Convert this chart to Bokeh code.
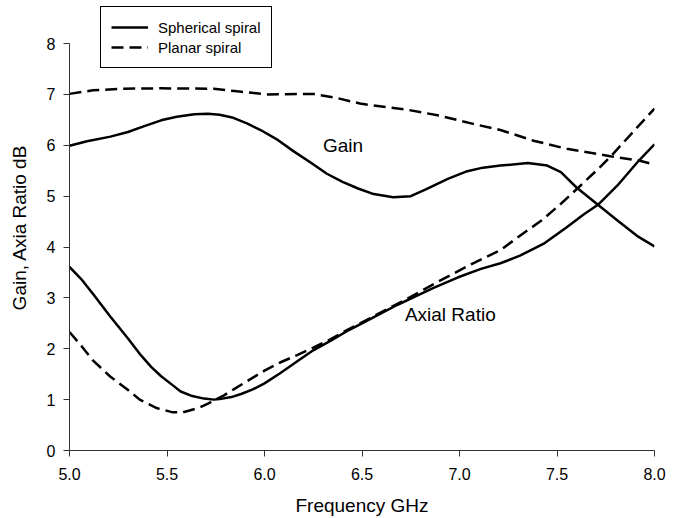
from bokeh.plotting import figure
from bokeh.models import Range1d, FixedTicker, Legend, PrintfTickFormatter
from bokeh.core.properties import value
from bokeh.embed import file_html
from bokeh.resources import INLINE

# Gain, spherical spiral (solid)
gain_sph_f = [5.00, 5.09, 5.21, 5.30, 5.38, 5.47, 5.55, 5.64, 5.71, 5.77, 5.84, 5.91, 5.98, 6.07, 6.15,
              6.24, 6.32, 6.40, 6.48, 6.56, 6.66, 6.75, 6.83, 6.94, 7.04, 7.12, 7.21, 7.35, 7.45, 7.52,
              7.60, 7.71, 7.81, 7.91, 8.00]
gain_sph_v = [5.99, 6.08, 6.17, 6.26, 6.37, 6.49, 6.56, 6.61, 6.62, 6.60, 6.54, 6.43, 6.30, 6.10, 5.88,
              5.65, 5.44, 5.28, 5.15, 5.04, 4.98, 5.00, 5.14, 5.34, 5.49, 5.56, 5.60, 5.65, 5.60, 5.47,
              5.17, 4.83, 4.52, 4.22, 4.01]

# Gain, planar spiral (dashed)
gain_pla_f = [5.00, 5.12, 5.26, 5.47, 5.74, 5.86, 6.01, 6.25, 6.37, 6.49, 6.56, 6.73, 6.90, 7.07, 7.21,
              7.38, 7.55, 7.78, 7.92, 8.00]
gain_pla_v = [7.01, 7.08, 7.11, 7.12, 7.11, 7.06, 7.00, 7.01, 6.93, 6.82, 6.78, 6.70, 6.58, 6.42, 6.30,
              6.09, 5.93, 5.78, 5.70, 5.62]

# Axial ratio, spherical spiral (solid)
ar_sph_f = [5.00, 5.06, 5.12, 5.21, 5.30, 5.36, 5.42, 5.47, 5.53, 5.57, 5.63, 5.69, 5.74, 5.77, 5.83,
            5.88, 5.94, 6.00, 6.08, 6.17, 6.25, 6.34, 6.42, 6.51, 6.60, 6.68, 6.78, 6.87, 6.99, 7.11,
            7.21, 7.31, 7.43, 7.55, 7.64, 7.71, 7.81, 7.92, 8.00]
ar_sph_v = [3.61, 3.37, 3.08, 2.63, 2.20, 1.90, 1.64, 1.46, 1.28, 1.16, 1.07, 1.02, 1.00, 1.01, 1.05,
            1.11, 1.20, 1.32, 1.52, 1.76, 1.97, 2.16, 2.34, 2.52, 2.70, 2.86, 3.04, 3.20, 3.40, 3.57,
            3.68, 3.83, 4.06, 4.39, 4.65, 4.83, 5.21, 5.70, 6.02]

# Axial ratio, planar spiral (dashed)
ar_pla_f = [5.00, 5.06, 5.12, 5.21, 5.30, 5.36, 5.45, 5.53, 5.58, 5.62, 5.67, 5.71, 5.79, 5.85, 5.91,
            6.00, 6.08, 6.17, 6.25, 6.34, 6.42, 6.51, 6.60, 6.73, 6.90, 7.07, 7.21, 7.31, 7.42, 7.52,
            7.61, 7.71, 7.78, 7.88, 8.00]
ar_pla_v = [2.33, 2.06, 1.77, 1.45, 1.19, 1.00, 0.83, 0.75, 0.75, 0.79, 0.85, 0.92, 1.08, 1.22, 1.36,
            1.57, 1.73, 1.88, 2.02, 2.19, 2.36, 2.54, 2.72, 2.98, 3.34, 3.68, 3.94, 4.22, 4.52, 4.85,
            5.17, 5.53, 5.80, 6.22, 6.72]

x_ticks = [5.0, 5.5, 6.0, 6.5, 7.0, 7.5, 8.0]
y_ticks = [0, 1, 2, 3, 4, 5, 6, 7, 8]

FONT = "Liberation Sans"

p = figure(width=672, height=518, output_backend="svg", toolbar_location=None,
           x_range=Range1d(5.0, 8.0), y_range=Range1d(0, 8.767),
           min_border_left=69, min_border_right=18, min_border_top=4, min_border_bottom=68)
p.outline_line_color = None
p.xgrid.visible = False
p.ygrid.visible = False

r1 = p.line(gain_sph_f, gain_sph_v, line_color="black", line_width=2.5)
r2 = p.line(gain_pla_f, gain_pla_v, line_color="black", line_width=2.5, line_dash="12 6")
p.line(ar_sph_f, ar_sph_v, line_color="black", line_width=2.5)
p.line(ar_pla_f, ar_pla_v, line_color="black", line_width=2.5, line_dash="12 6")

p.text(x=[6.30], y=[5.99], text=["Gain"], text_font=value(FONT), text_font_size="19px",
       text_baseline="middle", text_align="left", text_color="black")
p.text(x=[6.72], y=[2.67], text=["Axial Ratio"], text_font=value(FONT), text_font_size="19px",
       text_baseline="middle", text_align="left", text_color="black")

for ax in (p.xaxis[0], p.yaxis[0]):
    ax.axis_line_color = "#333333"
    ax.major_tick_line_color = "#333333"
    ax.major_tick_in = 0
    ax.major_tick_out = 6
    ax.minor_tick_line_color = None
    ax.major_label_text_font = FONT
    ax.major_label_text_font_size = "16px"
    ax.major_label_text_color = "black"
    ax.axis_label_text_font = FONT
    ax.axis_label_text_font_size = "19px"
    ax.axis_label_text_font_style = "normal"
    ax.axis_label_text_color = "black"

p.xaxis.ticker = FixedTicker(ticks=x_ticks)
p.xaxis.formatter = PrintfTickFormatter(format="%.1f")
p.xaxis.axis_label = "Frequency GHz"
p.xaxis.major_label_standoff = 11
p.xaxis.axis_label_standoff = 12

p.yaxis.ticker = FixedTicker(ticks=y_ticks)
p.yaxis.bounds = (0, 8)
p.yaxis.axis_label = "Gain, Axia Ratio dB"
p.yaxis.major_label_standoff = 8
p.yaxis.axis_label_standoff = 14

legend = Legend(items=[("Spherical spiral", [r1]), ("Planar spiral", [r2])],
                location=(31, 382))
legend.border_line_color = "black"
legend.border_line_width = 1
legend.border_line_alpha = 1
legend.padding = 10
legend.spacing = 0
legend.margin = 0
legend.glyph_width = 37
legend.glyph_height = 20
legend.label_height = 20
legend.label_standoff = 10
legend.label_text_font = FONT
legend.label_text_font_size = "15px"
legend.label_text_color = "black"
legend.background_fill_alpha = 1
p.add_layout(legend, "center")

open("out.html", "w").write(file_html(p, INLINE))
